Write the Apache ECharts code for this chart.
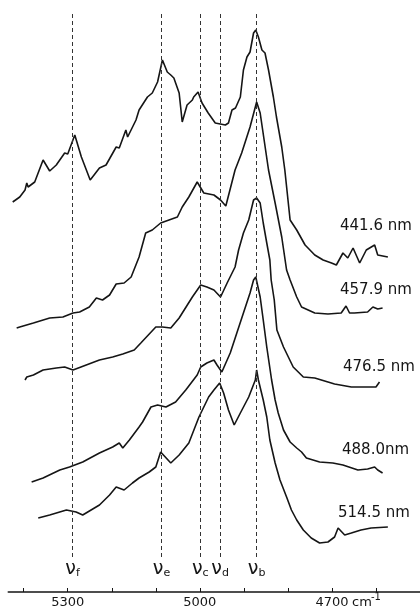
<!DOCTYPE html>
<html>
<head>
<meta charset="utf-8">
<script src="https://cdn.jsdelivr.net/npm/echarts@6/dist/echarts.min.js"></script>
<style>
  html, body { margin: 0; padding: 0; background: #fff; }
  #chart { width: 420px; height: 609px; }
</style>
</head>
<body>
<div id="chart"></div>
<script>
// Raman spectra, intensity is arbitrary (offset curves), x in cm-1
var wn441 = [5425, 5409, 5397, 5393, 5390, 5375, 5356, 5341, 5326, 5307, 5300, 5284, 5269, 5249, 5235, 5228, 5213, 5190, 5183, 5168, 5164, 5145, 5138, 5119, 5108, 5096, 5085, 5074, 5066, 5059, 5047, 5040, 5029, 5017, 5014, 5004, 4995, 4981, 4965, 4942, 4935, 4927, 4919, 4908, 4901, 4893, 4886, 4878, 4873, 4867, 4859, 4852, 4844, 4833, 4826, 4814, 4807, 4795, 4780, 4761, 4739, 4720, 4701, 4690, 4675, 4664, 4652, 4637, 4622, 4603, 4596, 4573];
var in441 = [390, 395, 402, 409, 405, 410, 432, 421, 427, 439, 438, 457, 435, 412, 420, 424, 427, 445, 444, 462, 455, 472, 482, 495, 499, 510, 532, 520, 517, 514, 499, 470, 487, 492, 495, 500, 489, 479, 469, 467, 469, 482, 484, 495, 522, 535, 540, 559, 562, 555, 542, 539, 522, 495, 475, 445, 422, 372, 362, 347, 337, 332, 329, 327, 339, 334, 344, 329, 342, 347, 337, 335];

var wn457 = [5416, 5409, 5378, 5341, 5311, 5288, 5273, 5251, 5235, 5221, 5205, 5190, 5172, 5156, 5138, 5123, 5108, 5089, 5070, 5051, 5040, 5025, 5006, 4991, 4968, 4953, 4941, 4920, 4905, 4886, 4871, 4863, 4844, 4829, 4814, 4803, 4795, 4780, 4769, 4739, 4709, 4679, 4668, 4660, 4649, 4619, 4607, 4596, 4585];
var in457 = [264, 265, 269, 274, 275, 279, 280, 285, 294, 292, 297, 308, 309, 315, 335, 359, 362, 369, 372, 375, 385, 395, 410, 399, 397, 392, 386, 422, 439, 465, 490, 479, 422, 389, 355, 322, 312, 295, 285, 279, 278, 279, 286, 279, 279, 280, 285, 283, 284];

var wn476 = [5397, 5393, 5378, 5356, 5326, 5307, 5288, 5258, 5228, 5198, 5175, 5149, 5134, 5100, 5085, 5066, 5047, 5017, 4998, 4984, 4968, 4953, 4938, 4920, 4912, 4901, 4889, 4878, 4871, 4863, 4856, 4848, 4841, 4838, 4831, 4825, 4810, 4788, 4765, 4739, 4694, 4656, 4619, 4600, 4592];
var in476 = [212, 215, 217, 222, 224, 225, 222, 227, 232, 235, 238, 242, 249, 265, 265, 264, 274, 295, 307, 305, 302, 295, 309, 325, 342, 359, 372, 392, 394, 389, 369, 349, 332, 312, 292, 262, 245, 225, 215, 214, 208, 205, 205, 205, 210];

var wn488 = [5382, 5356, 5318, 5296, 5266, 5228, 5198, 5183, 5175, 5160, 5138, 5130, 5111, 5096, 5077, 5055, 5032, 5006, 4998, 4984, 4968, 4961, 4950, 4931, 4916, 4901, 4886, 4878, 4873, 4863, 4856, 4848, 4837, 4829, 4822, 4810, 4795, 4780, 4769, 4758, 4728, 4698, 4675, 4641, 4619, 4603, 4596, 4585];
var in488 = [110, 114, 122, 125, 130, 139, 145, 149, 144, 152, 165, 170, 185, 187, 185, 190, 202, 217, 225, 229, 232, 227, 220, 239, 259, 279, 299, 312, 315, 295, 272, 245, 212, 192, 179, 162, 150, 144, 140, 134, 130, 129, 127, 122, 123, 125, 122, 119];

var wn514 = [5367, 5341, 5303, 5281, 5266, 5247, 5228, 5205, 5190, 5172, 5153, 5138, 5115, 5100, 5089, 5066, 5047, 5025, 5002, 4980, 4968, 4955, 4946, 4935, 4922, 4908, 4889, 4874, 4871, 4867, 4856, 4848, 4841, 4829, 4818, 4803, 4792, 4780, 4765, 4747, 4728, 4709, 4694, 4686, 4671, 4656, 4634, 4611, 4573];
var in514 = [74, 77, 82, 80, 77, 82, 87, 97, 105, 102, 109, 114, 120, 125, 140, 129, 137, 149, 175, 195, 202, 209, 199, 182, 167, 179, 195, 212, 222, 212, 192, 175, 152, 129, 112, 95, 82, 72, 62, 54, 49, 50, 55, 64, 57, 59, 62, 64, 65];

// band positions (dashed lines)
var bandWave = [5289, 5087, 4999, 4954, 4871];
var bandName = ['f', 'e', 'c', 'd', 'b'];

// excitation wavelengths
var laserLabels = ['441.6 nm', '457.9 nm', '476.5 nm', '488.0nm', '514.5 nm'];
var tickLabels = [5300, 5000, 4700];

function pairs(xs, ys) {
    var out = [];
    for (var i = 0; i < xs.length; i++) {
        out.push([xs[i], ys[i]]);
    }
    return out;
}

function curve(name, xs, ys) {
    return {
        name: name,
        type: 'line',
        showSymbol: false,
        symbol: 'none',
        silent: true,
        lineStyle: { color: '#151515', width: 1.6 },
        data: pairs(xs, ys)
    };
}

var myChart = echarts.init(document.getElementById('chart'));

var bandLines = [];
for (var i = 0; i < bandWave.length; i++) {
    bandLines.push([
        { name: bandName[i], coord: [bandWave[i], 35] },
        { coord: [bandWave[i], 578] }
    ]);
}

// label placement (px), text only
var labelPos = [[340, 219], [340, 283], [343, 360], [342, 443], [338, 506]];
var graphics = [];
for (var j = 0; j < laserLabels.length; j++) {
    graphics.push({
        type: 'text',
        left: labelPos[j][0],
        top: labelPos[j][1],
        style: {
            text: laserLabels[j],
            font: '15px "DejaVu Sans"',
            fill: '#151515'
        }
    });
}
graphics.push({
    type: 'text', left: 352, top: 596,
    style: { text: 'cm', font: '13px "DejaVu Sans"', fill: '#151515' }
});
graphics.push({
    type: 'text', left: 371, top: 592,
    style: { text: '-1', font: '10px "DejaVu Sans"', fill: '#151515' }
});

var option = {
    animation: false,
    grid: {
        left: 8.3,
        right: -2.5,
        top: 0,
        bottom: 17
    },
    xAxis: {
        type: 'value',
        inverse: true,
        min: 4500,
        max: 5435,
        interval: 100,
        axisLine: { onZero: false, lineStyle: { color: '#151515', width: 1.6 } },
        axisTick: { show: true, inside: true, length: 4, lineStyle: { color: '#151515', width: 1 } },
        splitLine: { show: false },
        axisLabel: {
            margin: 4,
            color: '#151515',
            fontSize: 13,
            fontFamily: 'DejaVu Sans',
            showMaxLabel: false,
            showMinLabel: false,
            formatter: function (v) {
                return tickLabels.indexOf(v) >= 0 ? String(v) : '';
            }
        }
    },
    yAxis: {
        type: 'value',
        min: 0,
        max: 592,
        show: false
    },
    graphic: graphics,
    series: [
        curve('441.6', wn441, in441),
        curve('457.9', wn457, in457),
        curve('476.5', wn476, in476),
        curve('488.0', wn488, in488),
        curve('514.5', wn514, in514),
        {
            name: 'bands',
            type: 'line',
            data: [],
            silent: true,
            markLine: {
                silent: true,
                symbol: ['none', 'none'],
                animation: false,
                lineStyle: { color: '#333', width: 1, type: [4, 3] },
                label: {
                    show: true,
                    position: 'start',
                    distance: 3,
                    color: '#151515',
                    formatter: function (p) {
                        return '{v|ν}{s|' + p.name + '}';
                    },
                    rich: {
                        v: { fontSize: 19, fontFamily: 'DejaVu Sans', color: '#151515' },
                        s: { fontSize: 11, fontFamily: 'DejaVu Sans', color: '#151515', padding: [8, 0, 0, 0] }
                    }
                },
                data: bandLines
            }
        }
    ]
};
myChart.setOption(option);
</script>
</body>
</html>
